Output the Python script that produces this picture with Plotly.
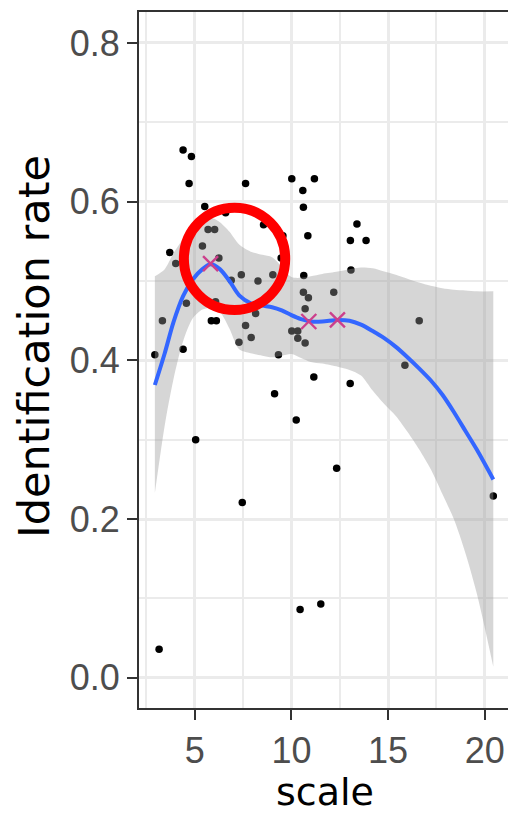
import plotly.graph_objects as go

# ---- data ----
scale = [2.94, 3.16, 3.33, 3.71, 4.02, 4.40, 4.40, 4.57, 4.71, 4.83, 5.05, 5.40, 5.52, 5.69,
         5.86, 6.03, 6.08, 6.12, 6.25, 6.60, 6.89, 7.29, 7.41, 7.46, 7.63, 7.63, 7.92, 8.15,
         8.27, 8.56, 9.04, 9.13, 9.33, 9.47, 9.56, 10.02, 10.02, 10.25, 10.33, 10.33, 10.45,
         10.59, 10.62, 10.62, 10.64, 10.71, 10.71, 10.85, 10.88, 11.16, 11.19, 11.52, 12.19,
         12.34, 13.04, 13.05, 13.08, 13.39, 13.86, 15.87, 16.61, 20.44]
ident_rate = [0.407, 0.036, 0.450, 0.536, 0.522, 0.665, 0.414, 0.472, 0.623, 0.657, 0.300,
              0.544, 0.594, 0.565, 0.450, 0.565, 0.474, 0.450, 0.529, 0.586, 0.501, 0.423,
              0.508, 0.221, 0.623, 0.444, 0.429, 0.459, 0.500, 0.571, 0.508, 0.358, 0.407,
              0.529, 0.557, 0.629, 0.437, 0.325, 0.437, 0.428, 0.086, 0.614, 0.593, 0.486,
              0.507, 0.465, 0.422, 0.557, 0.479, 0.379, 0.629, 0.093, 0.486, 0.264, 0.371,
              0.551, 0.514, 0.572, 0.551, 0.394, 0.450, 0.229]

smooth_x = [2.94, 3.45, 3.9, 4.4, 4.9, 5.4, 5.82, 6.3, 6.8, 7.3, 7.9, 8.5, 9.0, 9.5, 10.0,
            10.5, 11.0, 11.6, 12.4, 13.0, 13.6, 14.2, 14.8, 15.4, 16.0, 16.6, 17.2, 17.8,
            18.4, 19.0, 19.6, 20.44]
smooth_fit = [0.369, 0.409, 0.448, 0.481, 0.502, 0.515, 0.521, 0.515, 0.500, 0.482, 0.472,
              0.469, 0.467, 0.463, 0.457, 0.452, 0.449, 0.449, 0.451, 0.450, 0.445, 0.437,
              0.428, 0.417, 0.404, 0.390, 0.375, 0.357, 0.335, 0.311, 0.287, 0.250]
smooth_upper = [0.506, 0.515, 0.535, 0.553, 0.570, 0.578, 0.580, 0.574, 0.562, 0.546, 0.537,
                0.533, 0.530, 0.518, 0.505, 0.504, 0.506, 0.509, 0.512, 0.515, 0.517, 0.516,
                0.512, 0.508, 0.503, 0.498, 0.494, 0.491, 0.489, 0.488, 0.487, 0.487]
smooth_lower = [0.233, 0.318, 0.376, 0.424, 0.453, 0.464, 0.466, 0.461, 0.440, 0.414, 0.409,
                0.406, 0.404, 0.406, 0.408, 0.403, 0.398, 0.396, 0.392, 0.388, 0.381, 0.362,
                0.345, 0.330, 0.310, 0.288, 0.263, 0.232, 0.200, 0.157, 0.105, 0.014]

peak_x = [5.82, 10.9, 12.38]
peak_y = [0.522, 0.449, 0.451]

circle_center = (7.06, 0.528)
circle_rx = 2.62
circle_ry = 0.0645

x_ticks = [5, 10, 15, 20]
y_ticks = [0.0, 0.2, 0.4, 0.6, 0.8]
y_tick_labels = ["0.0", "0.2", "0.4", "0.6", "0.8"]

FONT = "Liberation Sans, Arial, sans-serif"
TITLE_FONT = "DejaVu Sans, sans-serif"

fig = go.Figure()

fig.add_trace(go.Scatter(x=scale, y=ident_rate, mode="markers",
                         marker=dict(color="black", size=7.5), showlegend=False))

fig.add_trace(go.Scatter(x=smooth_x, y=smooth_lower, mode="lines",
                         line=dict(width=0, shape="spline", smoothing=0.8),
                         showlegend=False, hoverinfo="skip"))
fig.add_trace(go.Scatter(x=smooth_x, y=smooth_upper, mode="lines",
                         line=dict(width=0, shape="spline", smoothing=0.8),
                         fill="tonexty", fillcolor="rgba(153,153,153,0.4)",
                         showlegend=False, hoverinfo="skip"))

fig.add_trace(go.Scatter(x=smooth_x, y=smooth_fit, mode="lines",
                         line=dict(color="#3366FF", width=4, shape="spline", smoothing=0.8),
                         showlegend=False))

fig.add_trace(go.Scatter(x=peak_x, y=peak_y, mode="markers",
                         marker=dict(symbol="x-thin", size=15,
                                     line=dict(width=2.4, color="#CC3F8C")),
                         showlegend=False))

cx, cy = circle_center
fig.add_shape(type="circle", xref="x", yref="y",
              x0=cx - circle_rx, x1=cx + circle_rx,
              y0=cy - circle_ry, y1=cy + circle_ry,
              line=dict(color="#FF0000", width=10), layer="above")

fig.add_annotation(text="scale", xref="paper", yref="paper",
                   x=(325 - 139) / 369, y=(708 - 816) / 696,
                   xanchor="center", yanchor="bottom", showarrow=False,
                   font=dict(size=38, color="black", family=TITLE_FONT))
fig.add_annotation(text="Identification rate", xref="paper", yref="paper",
                   x=(34 - 139) / 369, y=(708 - 347) / 696, textangle=-90,
                   xanchor="center", yanchor="middle", showarrow=False,
                   font=dict(size=43, color="black", family=TITLE_FONT))

fig.update_layout(
    width=508, height=816,
    margin=dict(l=139, r=0, t=12, b=108),
    plot_bgcolor="white", paper_bgcolor="white",
    font=dict(family=FONT),
)

fig.update_xaxes(
    range=[2.12, 21.2],
    tickvals=x_ticks,
    ticks="outside", ticklen=10, tickwidth=2.2, tickcolor="#333333",
    tickfont=dict(size=36, color="#4D4D4D", family=FONT),
    showgrid=True, gridcolor="#EBEBEB", gridwidth=2.5,
    minor=dict(dtick=2.5, showgrid=True, gridcolor="#EBEBEB", gridwidth=1.5, ticks=""),
    showline=True, linecolor="#333333", linewidth=2, mirror=True,
    zeroline=False,
)
fig.update_yaxes(
    range=[-0.038, 0.839],
    tickvals=y_ticks, ticktext=y_tick_labels,
    ticks="outside", ticklen=10, tickwidth=2.2, tickcolor="#333333",
    tickfont=dict(size=36, color="#4D4D4D", family=FONT),
    showgrid=True, gridcolor="#EBEBEB", gridwidth=2.5,
    minor=dict(dtick=0.1, showgrid=True, gridcolor="#EBEBEB", gridwidth=1.5, ticks=""),
    showline=True, linecolor="#333333", linewidth=2, mirror=False,
    zeroline=False,
)

fig.write_html("out.html")
